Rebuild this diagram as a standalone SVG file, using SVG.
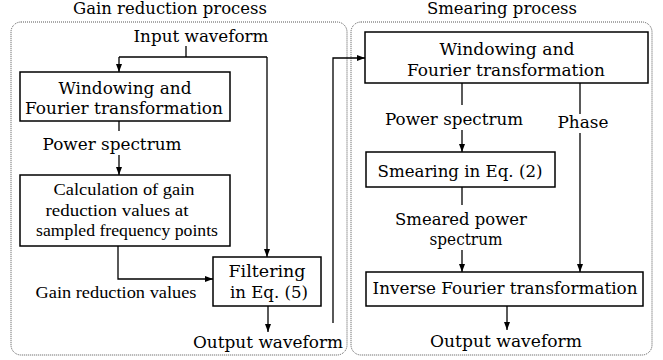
<svg xmlns="http://www.w3.org/2000/svg" width="663" height="360" viewBox="0 0 663 360">
  <style>
    .bg { fill: #ffffff; }
    .panel { fill: none; stroke: #555; stroke-width: 1; stroke-dasharray: 1 1; }
    .box { fill: #ffffff; stroke: #000; stroke-width: 1.5; }
    .wire { fill: none; stroke: #000; stroke-width: 1.3; }
    .t { font-family: "DejaVu Serif", "Liberation Serif", serif; font-size: 16.5px; fill: #000; text-anchor: middle; }
    .tt { font-family: "Liberation Serif", "Times New Roman", serif; font-size: 17.5px; fill: #000; text-anchor: middle; }
  </style>
  <defs>
    <marker id="arrow" markerUnits="userSpaceOnUse" markerWidth="8" markerHeight="6" refX="8" refY="3" orient="auto">
      <path d="M0,0 L8,3 L0,6 z" fill="#000"/>
    </marker>
  </defs>

  <rect class="bg" x="0" y="0" width="663" height="360"/>

  <!-- process panels -->
  <g id="panel-gain">
    <rect class="panel" x="11" y="22" width="336" height="333" rx="10" ry="10"/>
    <text class="t" x="170" y="14" textLength="194" lengthAdjust="spacingAndGlyphs">Gain reduction process</text>
  </g>
  <g id="panel-smear">
    <rect class="panel" x="351" y="22" width="301" height="333" rx="10" ry="10"/>
    <text class="t" x="502" y="14" textLength="150" lengthAdjust="spacingAndGlyphs">Smearing process</text>
  </g>

  <!-- connectors -->
  <g id="connectors">
    <path class="wire" d="M186,46 V57"/>
    <path class="wire" d="M119,57 H267"/>
    <path class="wire" d="M119,57 V72" marker-end="url(#arrow)"/>
    <path class="wire" d="M267,57 V257" marker-end="url(#arrow)"/>
    <path class="wire" d="M119,121 V131"/>
    <path class="wire" d="M119,155 V175" marker-end="url(#arrow)"/>
    <path class="wire" d="M118,246 V279 H213" marker-end="url(#arrow)"/>
    <path class="wire" d="M268,306 V332" marker-end="url(#arrow)"/>
    <path class="wire" d="M333,323 V58 H365" marker-end="url(#arrow)"/>
    <path class="wire" d="M462,83 V105"/>
    <path class="wire" d="M462,130 V152" marker-end="url(#arrow)"/>
    <path class="wire" d="M580,83 V114"/>
    <path class="wire" d="M580,133 V272" marker-end="url(#arrow)"/>
    <path class="wire" d="M462,187 V205"/>
    <path class="wire" d="M462,250 V272" marker-end="url(#arrow)"/>
    <path class="wire" d="M507,306 V330" marker-end="url(#arrow)"/>
  </g>

  <!-- connector labels -->
  <g id="labels">
    <text class="t" x="201" y="42" textLength="135" lengthAdjust="spacingAndGlyphs">Input waveform</text>
    <text class="t" x="112" y="150" textLength="139" lengthAdjust="spacingAndGlyphs">Power spectrum</text>
    <text class="tt" x="116" y="298" textLength="161" lengthAdjust="spacingAndGlyphs">Gain reduction values</text>
    <text class="t" x="268" y="348" textLength="150" lengthAdjust="spacingAndGlyphs">Output waveform</text>
    <text class="t" x="454" y="125" textLength="138" lengthAdjust="spacingAndGlyphs">Power spectrum</text>
    <text class="t" x="583" y="128" textLength="51" lengthAdjust="spacingAndGlyphs">Phase</text>
    <text class="t" x="461" y="225" textLength="132" lengthAdjust="spacingAndGlyphs">Smeared power</text>
    <text class="t" x="466" y="245" textLength="73" lengthAdjust="spacingAndGlyphs">spectrum</text>
    <text class="t" x="506" y="347" textLength="152" lengthAdjust="spacingAndGlyphs">Output waveform</text>
  </g>

  <!-- gain reduction nodes -->
  <g id="node-window-left">
    <rect class="box" x="20" y="72" width="210" height="49"/>
    <text class="t" x="125" y="94" textLength="133" lengthAdjust="spacingAndGlyphs">Windowing and</text>
    <text class="t" x="124" y="114" textLength="198" lengthAdjust="spacingAndGlyphs">Fourier transformation</text>
  </g>
  <g id="node-calc">
    <rect class="box" x="20" y="175" width="210" height="71"/>
    <text class="tt" x="124" y="195" textLength="141" lengthAdjust="spacingAndGlyphs">Calculation of gain</text>
    <text class="tt" x="117" y="216" textLength="143" lengthAdjust="spacingAndGlyphs">reduction values at</text>
    <text class="tt" x="127" y="236" textLength="182" lengthAdjust="spacingAndGlyphs">sampled frequency points</text>
  </g>
  <g id="node-filter">
    <rect class="box" x="213" y="257" width="108" height="49"/>
    <text class="t" x="267" y="277" textLength="77" lengthAdjust="spacingAndGlyphs">Filtering</text>
    <text class="t" x="269" y="298" textLength="78" lengthAdjust="spacingAndGlyphs">in Eq. (5)</text>
  </g>

  <!-- smearing nodes -->
  <g id="node-window-right">
    <rect class="box" x="365" y="32" width="283" height="51"/>
    <text class="t" x="507" y="55" textLength="135" lengthAdjust="spacingAndGlyphs">Windowing and</text>
    <text class="t" x="506" y="76" textLength="198" lengthAdjust="spacingAndGlyphs">Fourier transformation</text>
  </g>
  <g id="node-smear">
    <rect class="box" x="366" y="152" width="189" height="35"/>
    <text class="t" x="460" y="177" textLength="165" lengthAdjust="spacingAndGlyphs">Smearing in Eq. (2)</text>
  </g>
  <g id="node-inverse">
    <rect class="box" x="366" y="272" width="277" height="34"/>
    <text class="t" x="505" y="294" textLength="265" lengthAdjust="spacingAndGlyphs">Inverse Fourier transformation</text>
  </g>
</svg>
